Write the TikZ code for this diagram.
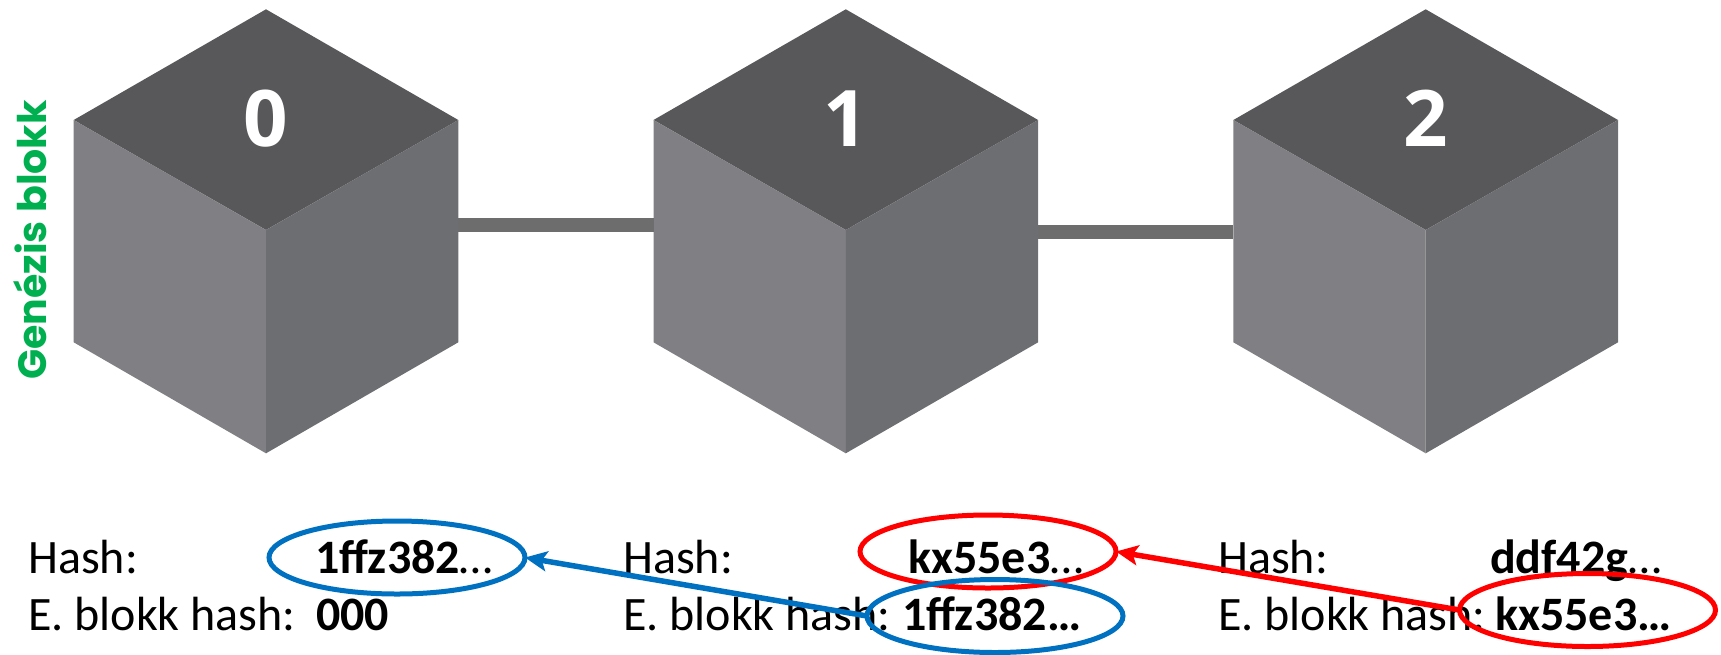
\documentclass[tikz,border=0pt]{standalone}
\usepackage{fontspec}
\setmainfont{Carlito}
\newfontfamily\numfont{Open Sans}
\newfontfamily\genfont{Poppins}
\usetikzlibrary{shapes.geometric,arrows.meta}
\definecolor{topc}{HTML}{58585A}
\definecolor{leftc}{HTML}{808084}
\definecolor{rightc}{HTML}{6D6E72}
\definecolor{linkc}{HTML}{6D6D6D}
\definecolor{genc}{HTML}{00B050}
\definecolor{bluec}{HTML}{0070C0}
\definecolor{redc}{HTML}{FF0000}
\tikzset{
  cubebox/.style={minimum width=384.6pt,minimum height=444pt,inner sep=0,outer sep=0},
  cubenum/.style={font=\numfont\bfseries\fontsize{78}{80}\selectfont,text=white,anchor=base,inner sep=0},
  link/.style={draw=linkc,line width=14pt},
  lbl/.style={font=\fontsize{48}{58}\selectfont,anchor=base west,inner sep=0},
  val/.style={font=\bfseries\fontsize{48}{58}\selectfont,anchor=base west,inner sep=0},
  ring/.style={ellipse,draw,line width=5pt,minimum width=256pt,minimum height=73pt,inner sep=0,outer sep=0},
  ptr/.style={line width=5.5pt,-{Stealth[length=22pt,width=20pt,inset=5pt]}},
}
\begin{document}
\begin{tikzpicture}[x=1pt,y=-1pt]
\useasboundingbox (0,0) rectangle (1721,654);
% cubes
\foreach \cx/\n in {266/0,845.8/1,1425.7/2}{
  \fill[topc] (\cx,9.3) -- (\cx+192.3,120) -- (\cx,230) -- (\cx-192.3,120) -- cycle;
  \fill[leftc] (\cx-192.3,120) -- (\cx,230) -- (\cx,453.3) -- (\cx-192.3,342.3) -- cycle;
  \fill[rightc] (\cx,230) -- (\cx+192.3,120) -- (\cx+192.3,342.3) -- (\cx,453.3) -- cycle;
  \node[cubebox] (c\n) at (\cx,231.3) {};
  \node[cubenum] (n\n) at (\cx,146.7) {\n};
}
\draw[link] ([yshift=6.3pt]c0.east) -- ([yshift=6.3pt]c1.west);
\draw[link] ([yshift=-0.7pt]c1.east) -- ([yshift=-0.7pt]c2.west);
% genesis label
\node[rotate=90,anchor=base,inner sep=0,text=genc,font=\genfont\bfseries\fontsize{39.5}{44}\selectfont] (gen) at (46.5,240) {Genézis blokk};
% texts
\node[lbl] (h0) at (28,573) {Hash:};
\node[lbl] (p0) at (28,630.5) {E. blokk hash:};
\node[val] (v0) at (315,573) {1ffz382\mdseries…};
\node[val] (w0) at (316,630.5) {000};
\node[lbl] (h1) at (623,573) {Hash:};
\node[lbl] (p1) at (623,630.5) {E. blokk hash:};
\node[val] (v1) at (908,573) {kx55e3\mdseries…};
\node[val] (w1) at (902,630.5) {1ffz382…};
\node[lbl] (h2) at (1218,573) {Hash:};
\node[lbl] (p2) at (1218,630.5) {E. blokk hash:};
\node[val] (v2) at (1490,573) {ddf42g\mdseries…};
\node[val] (w2) at (1495,630.5) {kx55e3…};
% rings
\node[ring,draw=bluec] (b0) at (397,557.5) {};
\node[ring,draw=redc] (r1) at (988,551.5) {};
\node[ring,draw=bluec] (b1) at (995,616) {};
\node[ring,draw=redc] (r2) at (1587.5,610) {};
% pointers
\draw[ptr,bluec] (b1.west) -- (b0.east);
\draw[ptr,redc] (r2.west) -- (r1.east);
\end{tikzpicture}
\end{document}
